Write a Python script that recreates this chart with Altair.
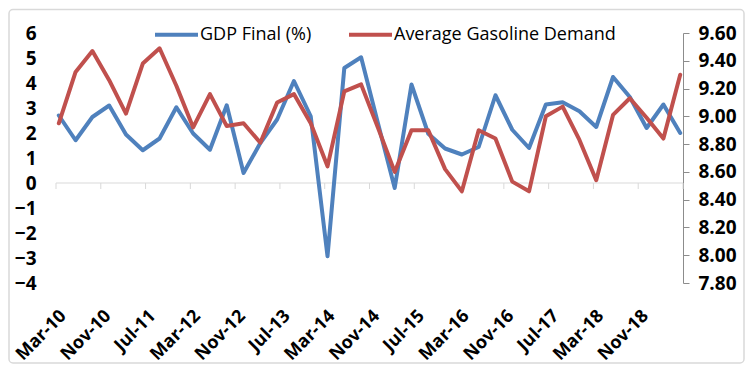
import json
import altair as alt
import pandas as pd

# Quarterly observations, Mar-10 .. Jun-19
quarters = pd.date_range("2010-03-01", periods=38, freq="3MS")

gdp_final = [2.70, 1.71, 2.64, 3.10, 1.94, 1.31, 1.78, 3.03, 1.98, 1.33,
             3.11, 0.40, 1.60, 2.54, 4.08, 2.67, -2.93, 4.60, 5.03, 2.40,
             -0.20, 3.94, 1.97, 1.38, 1.14, 1.44, 3.51, 2.13, 1.40, 3.14,
             3.23, 2.87, 2.24, 4.24, 3.44, 2.20, 3.14, 2.00]

gas_demand = [8.95, 9.32, 9.47, 9.26, 9.02, 9.38, 9.49, 9.22, 8.92, 9.16,
              8.93, 8.95, 8.81, 9.10, 9.16, 8.95, 8.64, 9.18, 9.23, 8.92,
              8.60, 8.90, 8.90, 8.62, 8.46, 8.90, 8.84, 8.53, 8.46, 9.00,
              9.07, 8.83, 8.54, 9.01, 9.13, 8.99, 8.84, 9.30]

tick_labels = ["Mar-10", "Nov-10", "Jul-11", "Mar-12", "Nov-12", "Jul-13", "Mar-14",
               "Nov-14", "Jul-15", "Mar-16", "Nov-16", "Jul-17", "Mar-18", "Nov-18"]

left_ticks = [-4, -3, -2, -1, 0, 1, 2, 3, 4, 5, 6]
right_ticks = [7.8, 8.0, 8.2, 8.4, 8.6, 8.8, 9.0, 9.2, 9.4, 9.6]

series_names = ["GDP Final (%)", "Average Gasoline Demand"]
colors = ["#4F81BD", "#C0504D"]

# month index since Mar-2010 (mid-month placement)
months = [(d.year - 2010) * 12 + d.month - 3 + 0.5 for d in quarters]

gdp_df = pd.DataFrame({"m": months, "v": gdp_final, "series": series_names[0]})
gas_df = pd.DataFrame({"m": months, "v": gas_demand, "series": series_names[1]})
zero_df = pd.DataFrame({"m": [0], "m2": [112], "v": [0]})
xtick_df = pd.DataFrame({"m": list(range(0, 113, 8)), "v": 0.0, "v2": -0.24})

FONT = "Open Sans"

xscale = alt.Scale(domain=[0, 112], nice=False, zero=False)
xaxis = alt.Axis(
    values=list(range(0, 105, 8)),
    labelExpr=json.dumps(tick_labels) + "[round(datum.value/8)]",
    labelAngle=-45, labelAlign="right", labelBaseline="middle",
    labelPadding=30, labelOffset=7, domain=False, ticks=False, grid=False,
    labelFontSize=18, labelFontWeight="bold", labelColor="black",
    labelOverlap=False, title=None,
)

lscale = alt.Scale(domain=[-4, 6], nice=False, zero=False)
laxis = alt.Axis(values=left_ticks, domain=False, ticks=False, grid=False,
                 labelPadding=20, labelFontSize=19, labelFontWeight="bold",
                 labelColor="black", title=None)

rscale = alt.Scale(domain=[7.8, 9.6], nice=False, zero=False)
raxis = alt.Axis(orient="right", values=right_ticks, format=".2f", grid=False,
                 domainColor="#8c8c8c", tickColor="#8c8c8c", tickSize=6,
                 labelPadding=9, labelFontSize=19, labelFontWeight="bold",
                 labelColor="black", title=None)

color = alt.Color(
    "series:N",
    scale=alt.Scale(domain=series_names, range=colors),
    legend=alt.Legend(orient="none", legendX=97, legendY=-22, direction="horizontal",
                      columns=2, symbolType="stroke", symbolSize=1849,
                      symbolStrokeWidth=4, labelFontSize=18, labelColor="black",
                      labelOffset=0, columnPadding=29, labelLimit=400, padding=0,
                      title=None),
)

frame = alt.Chart(alt.Data(values=[{"a": 1}])).mark_rect(
    filled=False, stroke="#d9d9d9", strokeWidth=1.5, cornerRadius=4
).encode(x=alt.value(-47), x2=alt.value(688), y=alt.value(-23.5), y2=alt.value(330))

zero_line = alt.Chart(zero_df).mark_rule(color="#d9d9d9", strokeWidth=1).encode(
    x=alt.X("m:Q", scale=xscale, axis=xaxis), x2="m2:Q",
    y=alt.Y("v:Q", scale=lscale, axis=laxis),
)

xticks = alt.Chart(xtick_df).mark_rule(color="#d9d9d9", strokeWidth=1).encode(
    x=alt.X("m:Q", scale=xscale, axis=xaxis),
    y=alt.Y("v:Q", scale=lscale, axis=laxis), y2="v2:Q",
)

gdp_line = alt.Chart(gdp_df).mark_line(strokeWidth=4, strokeJoin="round", strokeCap="round").encode(
    x=alt.X("m:Q", scale=xscale, axis=xaxis),
    y=alt.Y("v:Q", scale=lscale, axis=laxis),
    color=color,
)

gas_line = alt.Chart(gas_df).mark_line(strokeWidth=4, strokeJoin="round", strokeCap="round").encode(
    x=alt.X("m:Q", scale=xscale, axis=xaxis),
    y=alt.Y("v:Q", scale=rscale, axis=raxis),
    color=color,
)

left = alt.layer(frame, zero_line, xticks, gdp_line)

chart = alt.layer(left, gas_line).resolve_scale(y="independent").properties(
    width=627, height=250, padding=0
).configure_view(strokeWidth=0).configure_axis(labelFont=FONT).configure_legend(labelFont=FONT)

chart.save("out.html", embed_options={"renderer": "svg", "actions": False})
